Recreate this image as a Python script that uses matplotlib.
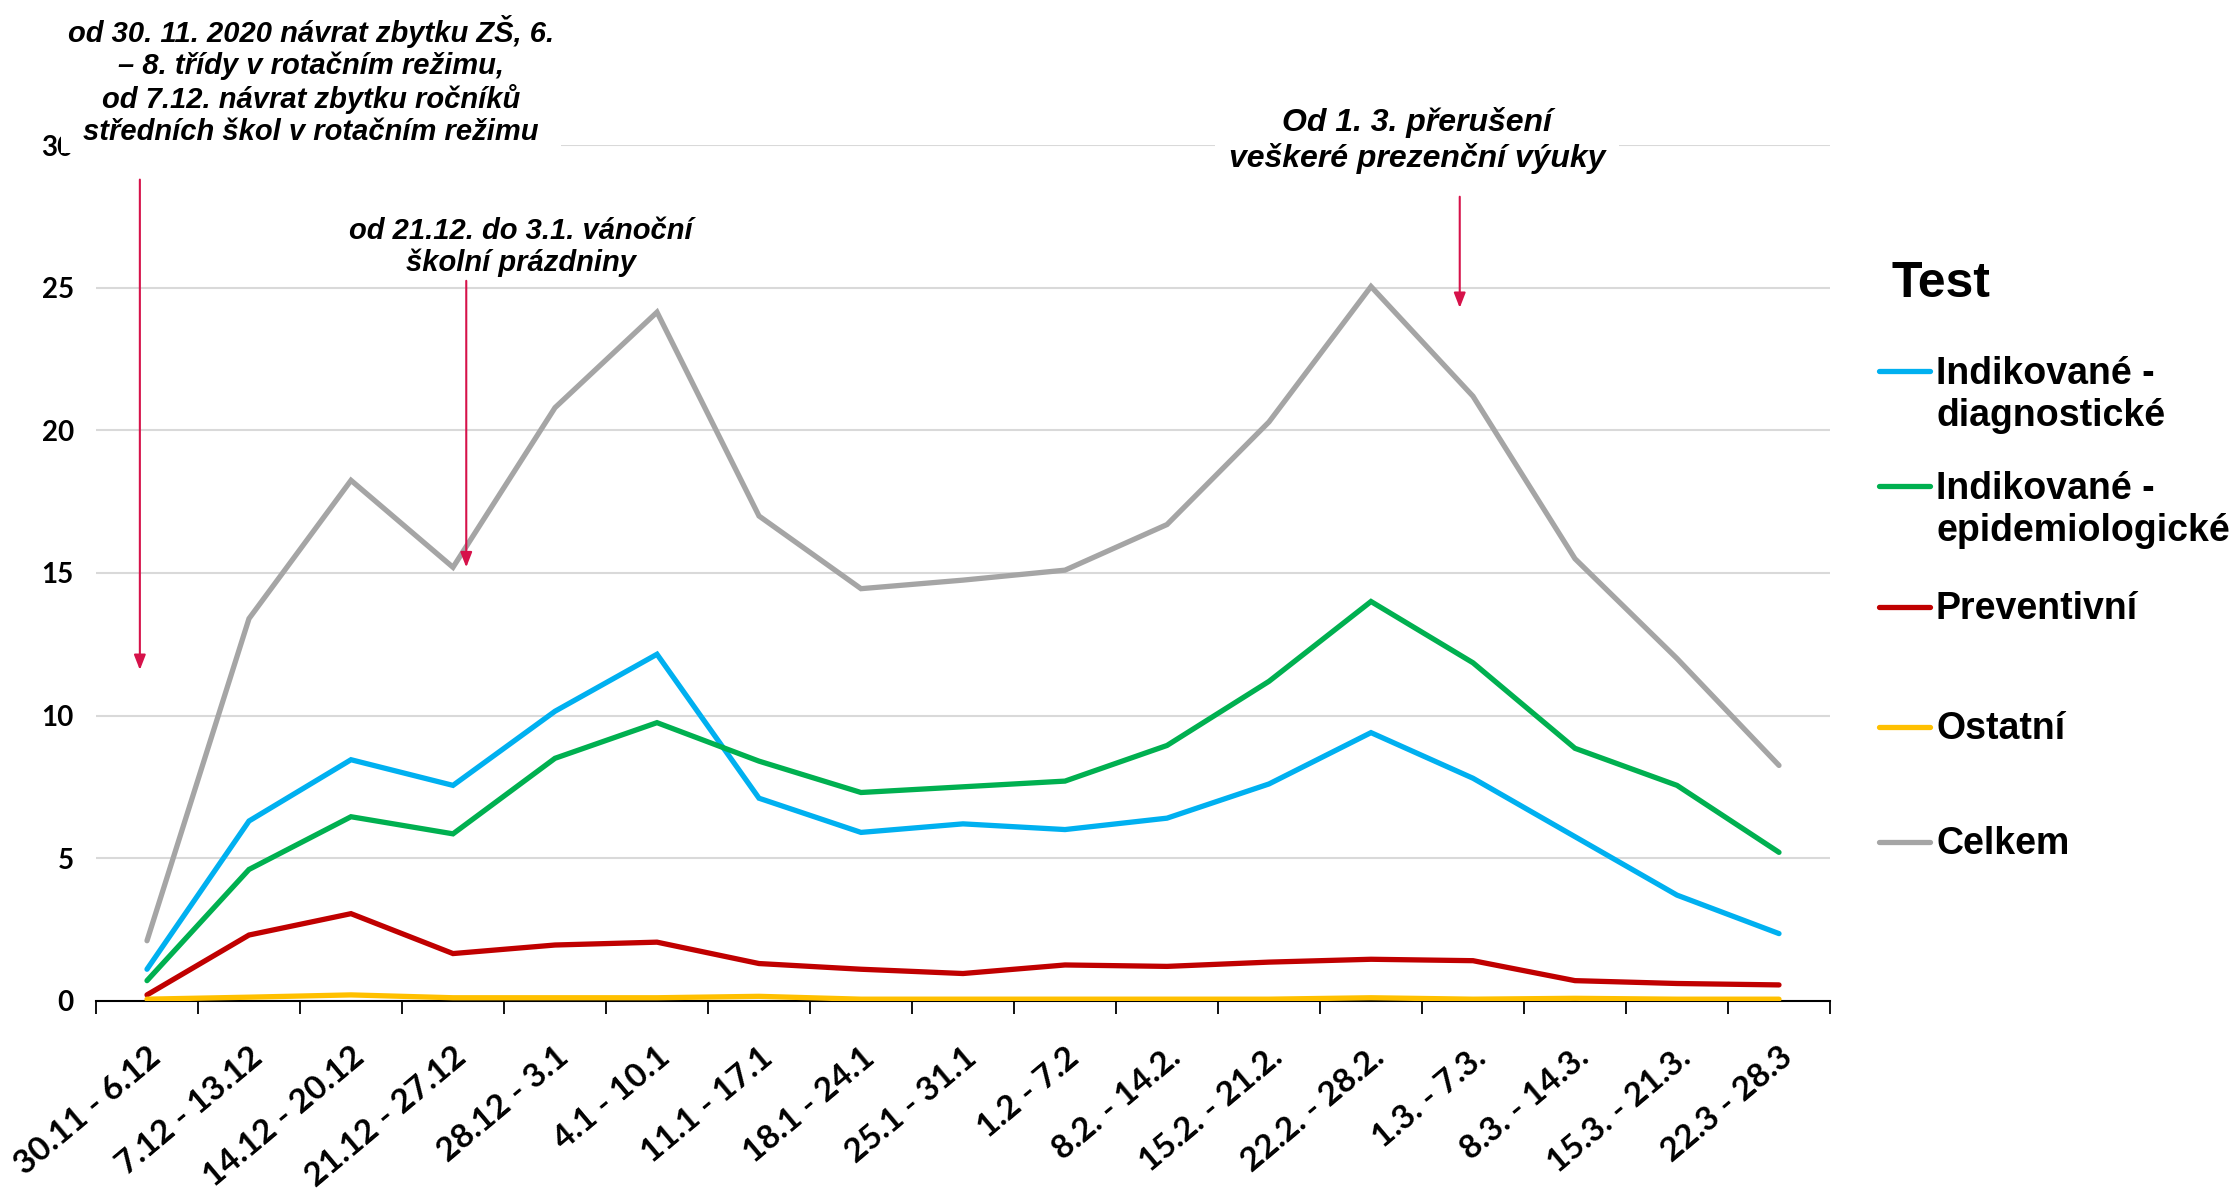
import matplotlib
matplotlib.use("Agg")
import matplotlib.pyplot as plt
from matplotlib.lines import Line2D

# tydny
tydny = ["30.11 - 6.12", "7.12 - 13.12", "14.12 - 20.12", "21.12 - 27.12", "28.12 - 3.1",
         "4.1 - 10.1", "11.1 - 17.1", "18.1 - 24.1", "25.1 - 31.1", "1.2 - 7.2",
         "8.2. - 14.2.", "15.2. - 21.2.", "22.2. - 28.2.", "1.3. - 7.3.", "8.3. - 14.3.",
         "15.3. - 21.3.", "22.3 - 28.3"]

diagnosticke = [1.1, 6.3, 8.45, 7.55, 10.15, 12.15, 7.1, 5.9, 6.2, 6.0, 6.4, 7.6, 9.4, 7.8, 5.75, 3.7, 2.35]
epidemiologicke = [0.7, 4.6, 6.45, 5.85, 8.5, 9.75, 8.4, 7.3, 7.5, 7.7, 8.95, 11.2, 14.0, 11.85, 8.85, 7.55, 5.2]
preventivni = [0.2, 2.3, 3.05, 1.65, 1.95, 2.05, 1.3, 1.1, 0.95, 1.25, 1.2, 1.35, 1.45, 1.4, 0.7, 0.6, 0.55]
ostatni = [0.05, 0.12, 0.2, 0.1, 0.1, 0.1, 0.15, 0.05, 0.05, 0.05, 0.05, 0.05, 0.1, 0.05, 0.08, 0.05, 0.05]
celkem = [2.1, 13.4, 18.25, 15.2, 20.8, 24.15, 17.0, 14.45, 14.75, 15.1, 16.7, 20.3, 25.05, 21.2, 15.5, 12.0, 8.25]

serie = [diagnosticke, epidemiologicke, preventivni, ostatni, celkem]
popisky = ["Indikované -\ndiagnostické", "Indikované -\nepidemiologické", "Preventivní", "Ostatní", "Celkem"]
barvy = ["#00B0F0", "#00B050", "#C00000", "#FFC000", "#A5A5A5"]

# sipky: (x, y_start, y_end) v datech
sipky = [(-0.07, 28.8, 11.6), (3.13, 25.25, 15.2), (12.87, 28.2, 24.3)]
sipka_barva = "#D6124A"

W, H = 2235, 1191
fig = plt.figure(figsize=(W / 100, H / 100), dpi=100)
ax = fig.add_axes([96 / W, 1 - 1000.6 / H, (1830 - 96) / W, (1000.6 - 145.4) / H])

x = list(range(len(tydny)))
for s, b in zip(serie, barvy):
    ax.plot(x, s, color=b, lw=3.8, solid_joinstyle="miter", solid_capstyle="round", zorder=3)

ax.set_xlim(-0.5, len(tydny) - 0.5)
ax.set_ylim(0, 30)
ax.set_yticks(range(0, 31, 5))
ax.set_yticklabels([str(v) for v in range(0, 31, 5)], fontfamily="Lato", fontweight="bold", fontsize=20)
ax.tick_params(axis="y", length=0, pad=16)
ax.grid(axis="y", color="#D9D9D9", lw=1.5)
ax.set_axisbelow(True)

ax.set_xticks([i - 0.5 for i in range(len(tydny) + 1)])
ax.set_xticklabels([])
ax.set_xticks(x, minor=True)
ax.set_xticklabels(tydny, minor=True, rotation=40, ha="right", va="top", rotation_mode="anchor",
                   fontfamily="Lato", fontweight="bold", fontsize=24)
ax.tick_params(axis="x", which="major", length=9, width=1.3, color="black", direction="out")
ax.tick_params(axis="x", which="minor", length=0, pad=30)

for sp in ["left", "right", "top"]:
    ax.spines[sp].set_visible(False)
ax.spines["bottom"].set_linewidth(1.5)
ax.spines["bottom"].set_color("black")

for sx, y0, y1 in sipky:
    ax.annotate("", xy=(sx, y1), xytext=(sx, y0),
                arrowprops=dict(arrowstyle="-|>,head_length=0.9,head_width=0.35", color=sipka_barva, lw=1.5,
                                shrinkA=0, shrinkB=0), zorder=4)

anot = dict(fontfamily="Liberation Sans", fontweight="bold", fontstyle="italic", ha="center", va="center",
            color="black", zorder=10)
fig.text(311 / W, 1 - 80.5 / H,
         "od 30. 11. 2020 návrat zbytku ZŠ, 6.\n– 8. třídy v rotačním režimu,\nod 7.12. návrat zbytku ročníků\nstředních škol v rotačním režimu",
         fontsize=21, linespacing=1.16, bbox=dict(facecolor="white", edgecolor="none", pad=5), **anot)
fig.text(521 / W, 1 - 247 / H, "od 21.12. do 3.1. vánoční\nškolní prázdniny",
         fontsize=21, linespacing=1.19, **anot)
fig.text(1417 / W, 1 - 140.5 / H, "Od 1. 3. přerušení\nveškeré prezenční výuky",
         fontsize=23, linespacing=1.19, bbox=dict(facecolor="white", edgecolor="none", pad=10), **anot)

# legenda
fig.text(1891 / W, 1 - 284 / H, "Test", fontfamily="Liberation Sans", fontweight="bold", fontsize=36,
         ha="left", va="center")
leg_y = [371, 486, 607, 727, 842]
for yy, lab, b in zip(leg_y, popisky, barvy):
    fig.add_artist(Line2D([1879 / W, 1930 / W], [1 - yy / H, 1 - yy / H], color=b, lw=3.8,
                          solid_capstyle="round", transform=fig.transFigure))
    n = lab.count("\n")
    fig.text(1936 / W, 1 - (yy + 2 + n * 22) / H, lab, fontfamily="Liberation Sans", fontweight="bold",
             fontsize=27, ha="left", va="center", linespacing=1.18)

fig.savefig("out.png", dpi=100)
